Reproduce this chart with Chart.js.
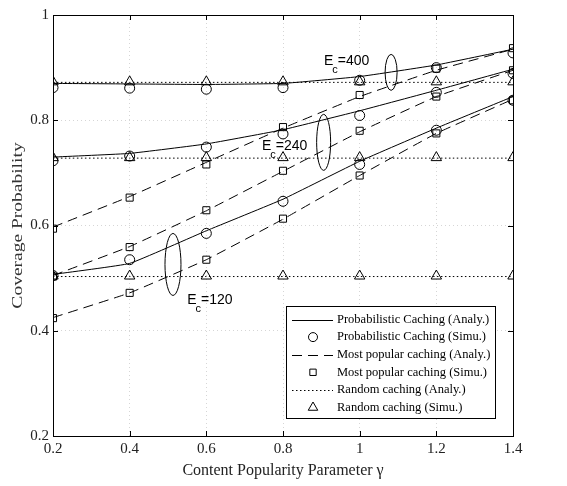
<!DOCTYPE html>
<html>
<head>
<meta charset="utf-8">
<script src="https://cdn.jsdelivr.net/npm/chart.js@4.4.1/dist/chart.umd.min.js"></script>
<style>
  html, body { margin:0; padding:0; background:#fff; }
  canvas { display:block; }
</style>
</head>
<body>
<canvas id="c" width="567" height="486"></canvas>
<script>
// ===== DATA =====
const gamma = [0.2, 0.4, 0.6, 0.8, 1.0, 1.2, 1.4]
const xTicks = [0.2, 0.4, 0.6, 0.8, 1.0, 1.2, 1.4]
const yTicks = [0.2, 0.4, 0.6, 0.8, 1.0]

// E_c = 400
const probAnaly400 = [0.870, 0.869, 0.868, 0.870, 0.883, 0.905, 0.935]
const probSimu400  = [0.862, 0.861, 0.859, 0.862, 0.876, 0.900, 0.928]
const popAnaly400  = [0.597, 0.655, 0.720, 0.785, 0.845, 0.895, 0.935]
const popSimu400   = [0.594, 0.653, 0.716, 0.787, 0.848, 0.898, 0.937]
const randAnaly400 = [0.872, 0.872, 0.872, 0.872, 0.872, 0.872, 0.872]
const randSimu400  = [0.873, 0.873, 0.873, 0.873, 0.873, 0.873, 0.873]

// E_c = 240
const probAnaly240 = [0.730, 0.737, 0.755, 0.782, 0.818, 0.857, 0.897]
const probSimu240  = [0.723, 0.732, 0.749, 0.774, 0.809, 0.853, 0.889]
const popAnaly240  = [0.505, 0.560, 0.628, 0.703, 0.778, 0.845, 0.895]
const popSimu240   = [0.503, 0.559, 0.629, 0.704, 0.780, 0.845, 0.895]
const randAnaly240 = [0.728, 0.728, 0.728, 0.728, 0.728, 0.728, 0.728]
const randSimu240  = [0.729, 0.729, 0.729, 0.729, 0.729, 0.729, 0.729]

// E_c = 120
const probAnaly120 = [0.507, 0.528, 0.590, 0.650, 0.722, 0.785, 0.845]
const probSimu120  = [0.505, 0.535, 0.585, 0.646, 0.716, 0.781, 0.838]
const popAnaly120  = [0.425, 0.472, 0.535, 0.612, 0.695, 0.775, 0.840]
const popSimu120   = [0.424, 0.472, 0.535, 0.613, 0.695, 0.775, 0.838]
const randAnaly120 = [0.503, 0.503, 0.503, 0.503, 0.503, 0.503, 0.503]
const randSimu120  = [0.504, 0.504, 0.504, 0.504, 0.504, 0.504, 0.504]

const legendLabels = [
  'Probabilistic Caching (Analy.)',
  'Probabilistic Caching (Simu.)',
  'Most popular caching (Analy.)',
  'Most popular caching (Simu.)',
  'Random caching (Analy.)',
  'Random caching (Simu.)',
]

// annotation: E_c value, label anchor (data), ellipse centre (data)
const ecValues = [400, 240, 120]
const ecLabelAt = [[0.907, 0.905], [0.745, 0.743], [0.55, 0.451]]
const ecEllipseAt = [[1.082, 0.891], [0.906, 0.758], [0.513, 0.526]]

// ===== STYLES =====
const SERIF = '"Liberation Serif", "Times New Roman", serif'
const SANS = '"Liberation Sans", Arial, sans-serif'
const ellipseR = [[6, 18], [7, 28], [8, 31]]
const styles = [
  { line: true,  dash: [] },
  { line: false, point: 'circle',   r: 5,   lr: 4.5 },
  { line: true,  dash: [10, 6] },
  { line: false, point: 'rect',     r: 5,   lr: 4.5 },
  { line: true,  dash: [1.5, 2.5] },
  { line: false, point: 'triangle', r: 6,   lr: 5.5 },
]

const pts = arr => arr.map((v, i) => ({ x: gamma[i], y: v }))

function mkSet(arr, s) {
  if (s.line) return {
    data: pts(arr), showLine: true, borderColor: '#000', borderWidth: 1,
    borderDash: s.dash, pointRadius: 0, tension: 0.1, fill: false
  }
  return {
    data: pts(arr), showLine: false, pointStyle: s.point, pointRadius: s.r,
    pointBorderColor: '#000', pointBackgroundColor: 'rgba(0,0,0,0)', pointBorderWidth: 1
  }
}

const groups = [
  [probAnaly400, probSimu400, popAnaly400, popSimu400, randAnaly400, randSimu400],
  [probAnaly240, probSimu240, popAnaly240, popSimu240, randAnaly240, randSimu240],
  [probAnaly120, probSimu120, popAnaly120, popSimu120, randAnaly120, randSimu120],
]
const datasets = []
groups.forEach(g => g.forEach((arr, i) => datasets.push(mkSet(arr, styles[i]))))

const fmt = v => String(Math.round(v * 10) / 10)

// ===== PLUGINS =====
const annotations = {
  id: 'annotations',
  afterDatasetsDraw(chart) {
    const { ctx, scales: { x, y } } = chart
    ctx.save()
    ctx.strokeStyle = '#000'; ctx.fillStyle = '#000'; ctx.lineWidth = 1
    ecEllipseAt.forEach((p, i) => {
      ctx.beginPath()
      ctx.ellipse(x.getPixelForValue(p[0]), y.getPixelForValue(p[1]), ellipseR[i][0], ellipseR[i][1], 0, 0, Math.PI * 2)
      ctx.stroke()
    })
    ctx.textAlign = 'left'; ctx.textBaseline = 'alphabetic'
    ecLabelAt.forEach((p, i) => {
      const px = x.getPixelForValue(p[0]), py = y.getPixelForValue(p[1])
      ctx.font = '14px ' + SANS
      ctx.fillText('E', px, py)
      let w = ctx.measureText('E').width - 1
      ctx.font = '11px ' + SANS
      ctx.fillText('c', px + w, py + 8)
      w += ctx.measureText('c').width
      ctx.font = '14px ' + SANS
      ctx.fillText('=' + ecValues[i], px + w, py)
    })

    // legend box
    const a = chart.chartArea
    const bx = a.right - 227, by = a.bottom - 130, bw = 209, bh = 112
    ctx.fillStyle = '#fff'
    ctx.fillRect(bx, by, bw, bh)
    ctx.strokeRect(bx + 0.5, by + 0.5, bw, bh)
    ctx.font = '12.5px ' + SERIF
    ctx.textBaseline = 'middle'
    legendLabels.forEach((lab, i) => {
      const s = styles[i], cy = by + 13.5 + i * 17.6
      if (s.line) {
        ctx.setLineDash(s.dash)
        ctx.beginPath(); ctx.moveTo(bx + 6, Math.round(cy) + 0.5); ctx.lineTo(bx + 47, Math.round(cy) + 0.5); ctx.stroke()
        ctx.setLineDash([])
      } else {
        ctx.fillStyle = 'rgba(0,0,0,0)'
        Chart.helpers.drawPoint(ctx, { pointStyle: s.point, radius: s.lr, borderWidth: 1, rotation: 0 }, bx + 27, cy)
      }
      ctx.fillStyle = '#000'
      ctx.fillText(lab, bx + 51, cy)
    })
    ctx.restore()
  }
}

const frame = {
  id: 'frame',
  afterDraw(chart) {
    const { ctx, chartArea: a, scales: { x, y } } = chart
    ctx.save()
    ctx.strokeStyle = '#000'; ctx.lineWidth = 1
    ctx.strokeRect(a.left + 0.5, a.top + 0.5, a.right - a.left, a.bottom - a.top)
    ctx.beginPath()
    xTicks.forEach(v => {
      const px = Math.round(x.getPixelForValue(v)) + 0.5
      ctx.moveTo(px, a.bottom); ctx.lineTo(px, a.bottom - 5)
      ctx.moveTo(px, a.top); ctx.lineTo(px, a.top + 5)
    })
    yTicks.forEach(v => {
      const py = Math.round(y.getPixelForValue(v)) + 0.5
      ctx.moveTo(a.left, py); ctx.lineTo(a.left + 5, py)
      ctx.moveTo(a.right, py); ctx.lineTo(a.right - 5, py)
    })
    ctx.stroke()

    // y axis title (drawn by hand, stretched like the original)
    ctx.translate(18, (a.top + a.bottom) / 2)
    ctx.rotate(-Math.PI / 2)
    ctx.scale(1.3, 1)
    ctx.font = '15px ' + SERIF
    ctx.fillStyle = '#333'
    ctx.textAlign = 'center'; ctx.textBaseline = 'middle'
    ctx.fillText('Coverage Probability', 0, 0)
    ctx.restore()
  }
}

// ===== CHART =====
new Chart(document.getElementById('c').getContext('2d'), {
  type: 'line',
  data: { datasets },
  plugins: [annotations, frame],
  options: {
    responsive: false, animation: false, devicePixelRatio: 1,
    layout: { padding: { top: 15, right: 54, bottom: 6, left: 0 } },
    plugins: { legend: { display: false }, tooltip: { enabled: false } },
    scales: {
      x: {
        type: 'linear', min: 0.2, max: 1.4,
        afterFit: s => { s.height = 44 },
        afterBuildTicks: s => { s.ticks = xTicks.map(v => ({ value: v })) },
        ticks: { callback: fmt, color: '#222', padding: 4, maxRotation: 0, font: { family: SERIF, size: 15 } },
        grid: { color: 'rgba(0,0,0,0.16)', drawTicks: false },
        border: { display: false, dash: [1, 3] },
        title: { display: true, text: 'Content Popularity Parameter γ', color: '#222', padding: 0, font: { family: SERIF, size: 16 } }
      },
      y: {
        min: 0.2, max: 1,
        afterFit: s => { s.width = 53 },
        afterBuildTicks: s => { s.ticks = yTicks.map(v => ({ value: v })) },
        ticks: { callback: fmt, color: '#222', padding: 4, font: { family: SERIF, size: 15 } },
        grid: { color: 'rgba(0,0,0,0.16)', drawTicks: false },
        border: { display: false, dash: [1, 3] }
      }
    }
  }
})
</script>
</body>
</html>
